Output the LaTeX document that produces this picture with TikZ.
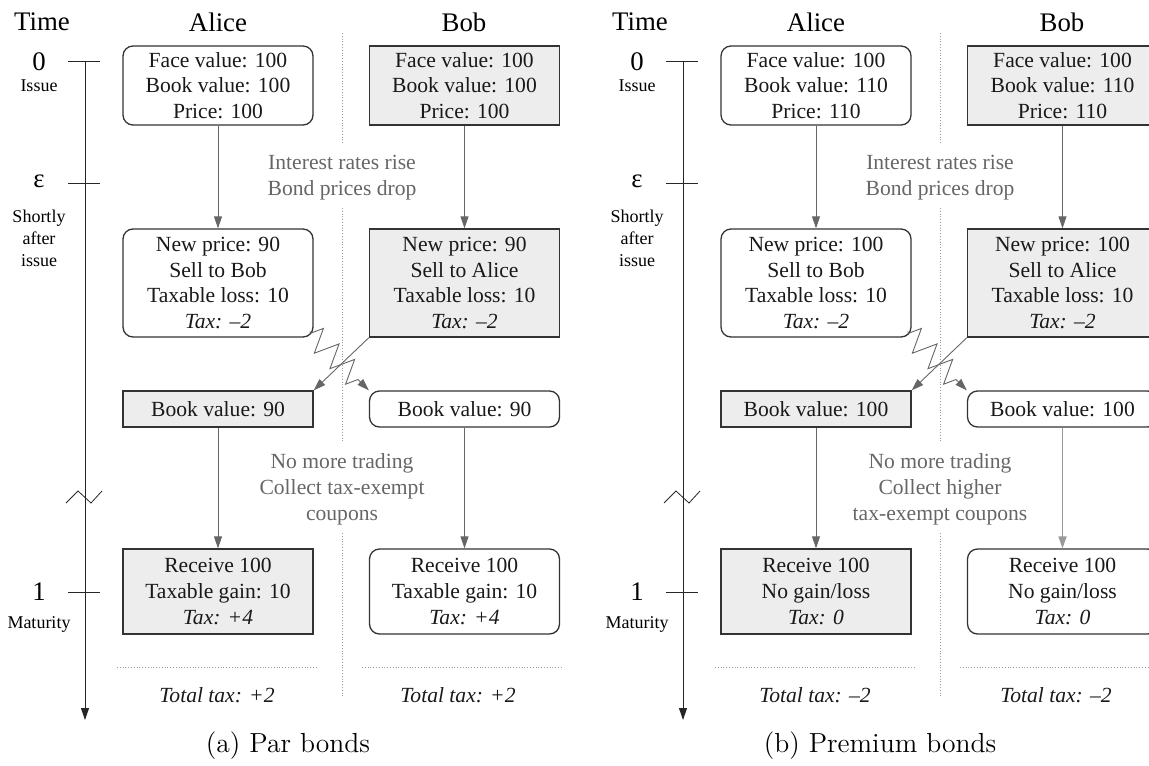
\documentclass[tikz,border=0pt]{standalone}
\usepackage{fontspec}
\newfontfamily\timesfont{Liberation Serif}
\usetikzlibrary{arrows.meta,decorations.pathmorphing}
\newcommand\boxfont{\timesfont\fontsize{10.8}{12.9}\selectfont}
\newcommand\headfont{\timesfont\fontsize{13.4}{16}\selectfont}
\newcommand\smallfont{\timesfont\fontsize{9}{11}\selectfont}
\tikzset{
  plainbox/.style={draw=black!80,line width=0.65pt,rounded corners=5pt,align=center,font=\boxfont,text=black!90,minimum width=95pt,inner ysep=2pt},
  shadebox/.style={plainbox,sharp corners,fill=black!7},
  flow/.style={->,draw=black!60,line width=0.45pt},
  swapflow/.style={flow,decorate,decoration={zigzag,segment length=11pt,amplitude=6pt,pre length=1pt,post length=5pt}},
  note/.style={align=center,font=\boxfont,text=black!60},
  sep/.style={densely dotted,draw=black!40,line width=0.4pt},
  tick/.style={line width=0.5pt,draw=black!85},
}
\begin{document}
\begin{tikzpicture}[x=0.5pt,y=-0.5pt,>={Triangle[length=6pt,width=4pt]}]
  \path[use as bounding box] (0,0) rectangle (1149,765);
  \clip (0,0) rectangle (1149,765);
  % (a) par bonds
  \node[font=\headfont] (timeA) at (42,22) {Time};
  \node[font=\headfont] (aliceA) at (218,22) {Alice};
  \node[font=\headfont] (bobA) at (464,22) {Bob};
  \coordinate (axtopA) at (85,62);
  \coordinate (axendA) at (85,720);
  \draw[tick,->] (axtopA) -- (axendA);
  \draw[tick] (68,62) -- (100,62);
  \draw[tick] (68,183) -- (100,183);
  \draw[tick] (68,592) -- (100,592);
  \draw[tick,line width=0.4pt] (66,503) -- (78,491) -- (91,503) -- (102,491);
  \node[font=\headfont] (zeroA) at (39,62) {0};
  \node[font=\smallfont] (issueA) at (39,86) {Issue};
  \node[font=\headfont] (epsA) at (39,181) {ε};
  \node[font=\smallfont,align=center] (shortA) at (39,238) {Shortly\\after\\issue};
  \node[font=\headfont] (oneA) at (39,592) {1};
  \node[font=\smallfont] (matA) at (39,624) {Maturity};
  \draw[sep] (342,33) -- (342,145);
  \draw[sep] (342,208) -- (342,443);
  \draw[sep] (342,533) -- (342,698);
  \draw[sep] (117,667) -- (317,667);
  \draw[sep] (362,667) -- (563,667);
  \node[plainbox,minimum height=39.5pt] (ainitA) at (218,85.5) {Face value: 100\\Book value: 100\\Price: 100};
  \node[shadebox,minimum height=39.5pt] (binitA) at (464.5,85.5) {Face value: 100\\Book value: 100\\Price: 100};
  \node[plainbox,minimum height=54pt] (anewA) at (218,283) {New price: 90\\Sell to Bob\\Taxable loss: 10\\\textit{Tax: –2}};
  \node[shadebox,minimum height=54pt] (bnewA) at (464.5,283) {New price: 90\\Sell to Alice\\Taxable loss: 10\\\textit{Tax: –2}};
  \node[shadebox,minimum height=18pt] (abookA) at (218,409) {Book value: 90};
  \node[plainbox,minimum height=18pt] (bbookA) at (464.5,409) {Book value: 90};
  \node[shadebox,minimum height=42.5pt] (arecA) at (218,591.5) {Receive 100\\Taxable gain: 10\\\textit{Tax: +4}};
  \node[plainbox,minimum height=42.5pt] (brecA) at (464.5,591.5) {Receive 100\\Taxable gain: 10\\\textit{Tax: +4}};
  \node[note] (rateA) at (342,178) {Interest rates rise\\Bond prices drop};
  \node[note] (holdA) at (342,489) {No more trading\\Collect tax-exempt\\coupons};
  \node[font=\boxfont\itshape,text=black!90] (atotA) at (217,695) {Total tax: +2};
  \node[font=\boxfont\itshape,text=black!90] (btotA) at (458,695) {Total tax: +2};
  \draw[flow] (ainitA) -- (anewA);
  \draw[flow] (binitA) -- (bnewA);
  \draw[flow] (bnewA.south west) -- (abookA.north east);
  \draw[swapflow] ([xshift=-2pt,yshift=3pt]anewA.south east) -- (bbookA.north west);
  \draw[flow] (abookA) -- (arecA);
  \draw[flow] (bbookA) -- (brecA);
  \node[font=\fontsize{13.8}{16}\selectfont] (capA) at (288,746) {(a)\ Par bonds};
  % (b) premium bonds
  \begin{scope}[xshift=299pt]
  \node[font=\headfont] (timeB) at (42,22) {Time};
  \node[font=\headfont] (aliceB) at (218,22) {Alice};
  \node[font=\headfont] (bobB) at (464,22) {Bob};
  \coordinate (axtopB) at (85,62);
  \coordinate (axendB) at (85,720);
  \draw[tick,->] (axtopB) -- (axendB);
  \draw[tick] (68,62) -- (100,62);
  \draw[tick] (68,183) -- (100,183);
  \draw[tick] (68,592) -- (100,592);
  \draw[tick,line width=0.4pt] (66,503) -- (78,491) -- (91,503) -- (102,491);
  \node[font=\headfont] (zeroB) at (39,62) {0};
  \node[font=\smallfont] (issueB) at (39,86) {Issue};
  \node[font=\headfont] (epsB) at (39,181) {ε};
  \node[font=\smallfont,align=center] (shortB) at (39,238) {Shortly\\after\\issue};
  \node[font=\headfont] (oneB) at (39,592) {1};
  \node[font=\smallfont] (matB) at (39,624) {Maturity};
  \draw[sep] (342,33) -- (342,145);
  \draw[sep] (342,208) -- (342,443);
  \draw[sep] (342,533) -- (342,698);
  \draw[sep] (117,667) -- (317,667);
  \draw[sep] (362,667) -- (563,667);
  \node[plainbox,minimum height=39.5pt] (ainitB) at (218,85.5) {Face value: 100\\Book value: 110\\Price: 110};
  \node[shadebox,minimum height=39.5pt] (binitB) at (464.5,85.5) {Face value: 100\\Book value: 110\\Price: 110};
  \node[plainbox,minimum height=54pt] (anewB) at (218,283) {New price: 100\\Sell to Bob\\Taxable loss: 10\\\textit{Tax: –2}};
  \node[shadebox,minimum height=54pt] (bnewB) at (464.5,283) {New price: 100\\Sell to Alice\\Taxable loss: 10\\\textit{Tax: –2}};
  \node[shadebox,minimum height=18pt] (abookB) at (218,409) {Book value: 100};
  \node[plainbox,minimum height=18pt] (bbookB) at (464.5,409) {Book value: 100};
  \node[shadebox,minimum height=42.5pt] (arecB) at (218,591.5) {Receive 100\\No gain/loss\\\textit{Tax: 0}};
  \node[plainbox,minimum height=42.5pt] (brecB) at (464.5,591.5) {Receive 100\\No gain/loss\\\textit{Tax: 0}};
  \node[note] (rateB) at (342,178) {Interest rates rise\\Bond prices drop};
  \node[note] (holdB) at (342,489) {No more trading\\Collect higher\\tax-exempt coupons};
  \node[font=\boxfont\itshape,text=black!90] (atotB) at (217,695) {Total tax: –2};
  \node[font=\boxfont\itshape,text=black!90] (btotB) at (458,695) {Total tax: –2};
  \draw[flow] (ainitB) -- (anewB);
  \draw[flow] (binitB) -- (bnewB);
  \draw[flow] (bnewB.south west) -- (abookB.north east);
  \draw[swapflow] ([xshift=-2pt,yshift=3pt]anewB.south east) -- (bbookB.north west);
  \draw[flow] (abookB) -- (arecB);
  \draw[flow,draw=black!40,line width=0.8pt] (bbookB) -- (brecB);
  \node[font=\fontsize{13.8}{16}\selectfont] (capB) at (282,746) {(b)\ Premium bonds};
  \end{scope}
\end{tikzpicture}
\end{document}
